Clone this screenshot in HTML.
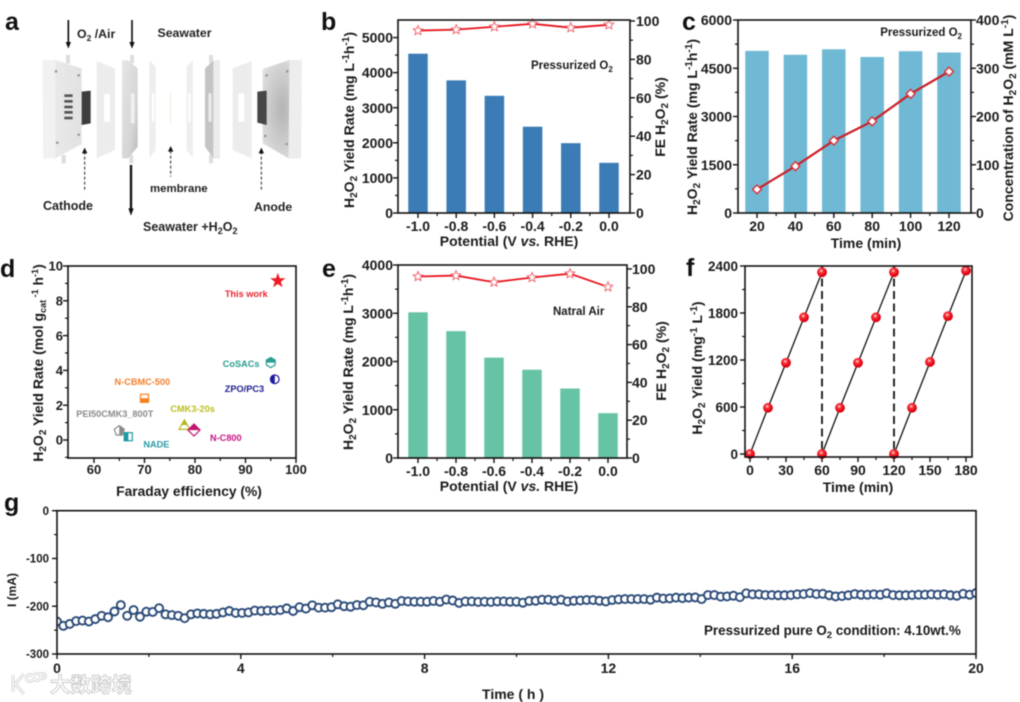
<!DOCTYPE html>
<html lang="en">
<head>
<meta charset="utf-8">
<title>H2O2 electrosynthesis figure</title>
<style>
html,body{margin:0;padding:0;background:#fff;}
#figure{display:block;width:1020px;height:702px;filter:blur(0.4px);font-family:"Liberation Sans","Noto Sans CJK SC",sans-serif;font-weight:bold;fill:#1a1a1a;}
text{font-family:"Liberation Sans","Noto Sans CJK SC",sans-serif;font-weight:bold;}
</style>
</head>
<body>
<svg id="figure" xmlns="http://www.w3.org/2000/svg" width="1020" height="702" viewBox="0 0 1020 702">
  <defs>
    <radialGradient id="ball-gradient" cx="0.42" cy="0.36" r="0.64">
      <stop offset="0" stop-color="#ffe6e6"/>
      <stop offset="0.32" stop-color="#f6333b"/>
      <stop offset="0.8" stop-color="#e6000f"/>
      <stop offset="1" stop-color="#c8000f"/>
    </radialGradient>
    <linearGradient id="plate-light" x1="0" x2="1" y1="0" y2="0">
      <stop offset="0" stop-color="#ececec"/><stop offset="1" stop-color="#e2e2e2"/>
    </linearGradient>
    <linearGradient id="plate-mid" x1="0" x2="1" y1="0" y2="1">
      <stop offset="0" stop-color="#e6e6e6"/><stop offset="0.7" stop-color="#d4d4d4"/><stop offset="1" stop-color="#b8b8b8"/>
    </linearGradient>
    <radialGradient id="plate-anode" cx="0.5" cy="0.5" r="0.6">
      <stop offset="0" stop-color="#b4b4b4"/><stop offset="1" stop-color="#dedede"/>
    </radialGradient>
  </defs>

  <!-- Panel letters -->
  <g font-size="25" fill="#111">
    <text x="5" y="30">a</text>
    <text x="321" y="30">b</text>
    <text x="682" y="30">c</text>
    <text x="0" y="277">d</text>
    <text x="322" y="277">e</text>
    <text x="686" y="276">f</text>
    <text x="4" y="511">g</text>
  </g>

  <!-- Panel a: exploded cell schematic -->
  <g transform="scale(0.33333)">
    <g>
      <rect x="198" y="165" width="12" height="25" fill="#dcdcdc"/>
      <rect x="185" y="465" width="12" height="25" fill="#dcdcdc"/>
      <polygon points="128,180 166,180 245,205 245,432 165,475 130,475" fill="url(#plate-light)"/>
      <polygon points="128,180 166,180 166,475 130,475" fill="#f1f1f1"/>
      <polygon points="245,275 272,272 272,370 245,375" fill="#3c3c3c"/>
      <g fill="#555">
        <rect x="193" y="283" width="25" height="8"/><rect x="193" y="300" width="25" height="8"/><rect x="193" y="317" width="25" height="8"/><rect x="193" y="333" width="25" height="8"/><rect x="193" y="350" width="25" height="8"/>
      </g>
      <g fill="#999">
        <circle cx="168" cy="214" r="4"/><circle cx="236" cy="226" r="4"/><circle cx="172" cy="428" r="4"/><circle cx="236" cy="404" r="4"/>
      </g>
    </g>
    <g>
      <polygon points="290,183 345,205 345,450 290,475" fill="#ececec"/>
      <rect x="312" y="282" width="18" height="83" fill="#fff"/>
    </g>
    <g>
      <rect x="390" y="165" width="12" height="25" fill="#dedede"/>
      <rect x="388" y="465" width="12" height="25" fill="#dedede"/>
      <polygon points="366,180 385,182 413,205 413,440 385,475 366,475" fill="url(#plate-mid)"/>
      <rect x="392" y="280" width="12" height="90" fill="#efefef"/>
    </g>
    <g>
      <polygon points="448,180 467,200 467,450 448,475" fill="#eeeeee"/>
      <rect x="456" y="280" width="7" height="85" fill="#fff"/>
    </g>
    <rect x="510" y="275" width="3" height="100" fill="#eeeed8"/>
    <g>
      <polygon points="579,180 560,200 560,450 579,475" fill="#eeeeee"/>
      <rect x="565" y="280" width="7" height="85" fill="#fff"/>
    </g>
    <g>
      <rect x="627" y="165" width="12" height="25" fill="#dedede"/>
      <rect x="627" y="465" width="12" height="25" fill="#dedede"/>
      <polygon points="659,180 640,182 615,205 615,440 640,475 659,475" fill="#c4c4c4"/>
      <polygon points="640,182 659,180 659,475 640,475" fill="#ececec"/>
      <rect x="625" y="280" width="10" height="85" fill="#e8e8e8"/>
    </g>
    <g>
      <polygon points="755,183 698,205 698,450 755,475" fill="#ececec"/>
      <rect x="715" y="280" width="18" height="85" fill="#fff"/>
    </g>
    <g>
      <polygon points="788,207 868,180 905,180 903,475 866,475 788,430" fill="url(#plate-anode)"/>
      <polygon points="868,180 905,180 903,475 866,475" fill="#ededed"/>
      <polygon points="772,275 800,272 800,375 772,368" fill="#464646"/>
      <g fill="#999">
        <circle cx="800" cy="226" r="4"/><circle cx="862" cy="214" r="4"/><circle cx="796" cy="408" r="4"/><circle cx="860" cy="432" r="4"/>
      </g>
    </g>
    <g stroke="#111" fill="#111">
      <line x1="205" y1="60" x2="205" y2="130" stroke-width="5"/><polygon points="197,126 213,126 205,146" stroke="none"/>
      <line x1="396" y1="60" x2="396" y2="130" stroke-width="5"/><polygon points="388,126 404,126 396,146" stroke="none"/>
      <line x1="393" y1="495" x2="393" y2="630" stroke-width="7"/><polygon points="385,625 401,625 393,647" stroke="none"/>
    </g>
    <g stroke="#222" fill="#111" stroke-width="3">
      <line x1="254" y1="455" x2="254" y2="572" stroke-dasharray="9 6"/><polygon points="246,460 262,460 254,443" stroke="none"/>
      <line x1="512" y1="452" x2="512" y2="530" stroke-dasharray="9 6"/><polygon points="504,455 520,455 512,438" stroke="none"/>
      <line x1="784" y1="455" x2="784" y2="570" stroke-dasharray="9 6"/><polygon points="776,460 792,460 784,443" stroke="none"/>
    </g>
  </g>
  <g font-size="12.300" fill="#222">
    <text x="77" y="38">O<tspan font-size="8.5" dy="3">2</tspan><tspan dy="-3"> /Air</tspan></text>
    <text x="157.500" y="37">Seawater</text>
    <text x="150" y="192" font-size="11.400">membrane</text>
    <text x="43" y="210" font-size="12.500">Cathode</text>
    <text x="254" y="211">Anode</text>
    <text x="143" y="231" font-size="12.500">Seawater +H<tspan font-size="9" dy="3">2</tspan><tspan dy="-3">O</tspan><tspan font-size="9" dy="3">2</tspan></text>
  </g>

  <!-- Chart groups filled by script -->
  <g id="chart-b"></g>
  <g id="chart-c"></g>
  <g id="chart-d"></g>
  <g id="chart-e"></g>
  <g id="chart-f"></g>
  <g id="chart-g"></g>

  <!-- Axis titles and annotations -->
  <g font-size="14" fill="#1a1a1a">
    <text x="509" y="246" text-anchor="middle">Potential (V <tspan font-style="italic">vs.</tspan> RHE)</text>
    <text transform="translate(354,120) rotate(-90)" text-anchor="middle">H<tspan font-size="10" dy="3">2</tspan><tspan dy="-3">O</tspan><tspan font-size="10" dy="3">2</tspan><tspan dy="-3"> Yield Rate (mg L</tspan><tspan font-size="10" dy="-5">-1</tspan><tspan dy="5">h</tspan><tspan font-size="10" dy="-5">-1</tspan><tspan dy="5">)</tspan></text>
    <text transform="translate(665,117) rotate(-90)" text-anchor="middle">FE H<tspan font-size="10" dy="3">2</tspan><tspan dy="-3">O</tspan><tspan font-size="10" dy="3">2</tspan><tspan dy="-3"> (%)</tspan></text>
    <text x="531" y="69" font-size="11.500">Pressurized O<tspan font-size="8" dy="3">2</tspan></text>

    <text x="866" y="248" text-anchor="middle">Time (min)</text>
    <text transform="translate(697,127) rotate(-90)" text-anchor="middle">H<tspan font-size="10" dy="3">2</tspan><tspan dy="-3">O</tspan><tspan font-size="10" dy="3">2</tspan><tspan dy="-3"> Yield Rate (mg L</tspan><tspan font-size="10" dy="-5">-1</tspan><tspan dy="5">h</tspan><tspan font-size="10" dy="-5">-1</tspan><tspan dy="5">)</tspan></text>
    <text transform="translate(1013,118) rotate(-90)" text-anchor="middle">Concentration of H<tspan font-size="10" dy="3">2</tspan><tspan dy="-3">O</tspan><tspan font-size="10" dy="3">2</tspan><tspan dy="-3"> (mM L</tspan><tspan font-size="10" dy="-5">-1</tspan><tspan dy="5">)</tspan></text>
    <text x="962" y="36" font-size="11.500" text-anchor="end">Pressurized O<tspan font-size="8" dy="3">2</tspan></text>

    <text x="189" y="496" text-anchor="middle" font-size="13.800">Faraday efficiency (%)</text>
    <text transform="translate(43,363) rotate(-90)" text-anchor="middle">H<tspan font-size="10" dy="3">2</tspan><tspan dy="-3">O</tspan><tspan font-size="10" dy="3">2</tspan><tspan dy="-3"> Yield Rate  (mol g</tspan><tspan font-size="9" dy="3">cat</tspan><tspan font-size="9" dy="-8"> -1</tspan><tspan dy="5"> h</tspan><tspan font-size="9" dy="-5">-1</tspan><tspan dy="5">)</tspan></text>

    <text x="509" y="491" text-anchor="middle">Potential (V <tspan font-style="italic">vs.</tspan> RHE)</text>
    <text transform="translate(353,362) rotate(-90)" text-anchor="middle">H<tspan font-size="10" dy="3">2</tspan><tspan dy="-3">O</tspan><tspan font-size="10" dy="3">2</tspan><tspan dy="-3"> Yield Rate (mg L</tspan><tspan font-size="10" dy="-5">-1</tspan><tspan dy="5">h</tspan><tspan font-size="10" dy="-5">-1</tspan><tspan dy="5">)</tspan></text>
    <text transform="translate(666,361) rotate(-90)" text-anchor="middle">FE H<tspan font-size="10" dy="3">2</tspan><tspan dy="-3">O</tspan><tspan font-size="10" dy="3">2</tspan><tspan dy="-3"> (%)</tspan></text>
    <text x="553" y="315" font-size="11.500">Natral Air</text>

    <text x="858" y="492" text-anchor="middle">Time (min)</text>
    <text transform="translate(702,368) rotate(-90)" text-anchor="middle">H<tspan font-size="10" dy="3">2</tspan><tspan dy="-3">O</tspan><tspan font-size="10" dy="3">2</tspan><tspan dy="-3"> Yield (mg</tspan><tspan font-size="10" dy="-5">-1</tspan><tspan dy="5"> L</tspan><tspan font-size="10" dy="-5">-1</tspan><tspan dy="5">)</tspan></text>

    <text x="513" y="699" text-anchor="middle">Time ( h )</text>
    <text transform="translate(16,590) rotate(-90)" text-anchor="middle" font-size="12">I (mA)</text>
    <text x="704" y="635" font-size="13.400">Pressurized pure O<tspan font-size="9.5" dy="3">2</tspan><tspan dy="-3"> condition: 4.10wt.%</tspan></text>
  </g>

  <!-- Watermark -->
  <g>
    <g fill="none" stroke="#cfcfcf" stroke-width="3">
      <path d="M13 675 L13 692 M24 674 L15 684 L24 694"/>
      <circle cx="30" cy="678" r="3.500"/><circle cx="37" cy="677" r="3.500"/><circle cx="43" cy="676" r="2.500"/>
    </g>
    <g fill="none" stroke="#ffffff" stroke-width="1.3">
      <path d="M13 675 L13 692 M24 674 L15 684 L24 694"/>
      <circle cx="30" cy="678" r="3.500"/><circle cx="37" cy="677" r="3.500"/><circle cx="43" cy="676" r="2.500"/>
    </g>
    <text x="50" y="692" font-size="20.500" font-weight="normal" fill="#ffffff" stroke="#c4c4c4" stroke-width="0.8" style="font-family:'Noto Sans CJK SC','Liberation Sans',sans-serif;">大数跨境</text>
  </g>

<script>
// ---------- Chart data ----------
const potentialCategories = ['-1.0', '-0.8', '-0.6', '-0.4', '-0.2', '0.0'];

const pressurizedYieldRate = [4540, 3780, 3340, 2460, 1990, 1430];
const pressurizedFaradaicEfficiency = [95, 95.5, 97, 98.5, 96.5, 98];
const panelBLeftTicks = [0, 1000, 2000, 3000, 4000, 5000];
const panelBRightTicks = [0, 20, 40, 60, 80, 100];

const timeCategories = [20, 40, 60, 80, 100, 120];
const timeYieldRate = [5040, 4920, 5090, 4850, 5030, 4990];
const timeConcentration = [49, 97, 150, 190, 247, 293];
const panelCLeftTicks = [0, 1500, 3000, 4500, 6000];
const panelCRightTicks = [0, 100, 200, 300, 400];

const catalystNames = ['This work', 'CoSACs', 'ZPO/PC3', 'N-CBMC-500', 'CMK3-20s', 'N-C800', 'PEI50CMK3_800T', 'NADE'];
const catalystEfficiency = [96.4, 95, 95.8, 70, 77.9, 79.8, 65, 66.8];
const catalystYieldRate = [9.15, 4.45, 3.49, 2.4, 0.86, 0.57, 0.53, 0.19];
const panelDXTicks = [60, 70, 80, 90, 100];
const panelDYTicks = [0, 2, 4, 6, 8, 10];

const airYieldRate = [3020, 2630, 2080, 1830, 1440, 930];
const airFaradaicEfficiency = [96, 96.5, 93, 95.5, 97.5, 90.5];
const panelELeftTicks = [0, 1000, 2000, 3000, 4000];
const panelERightTicks = [0, 20, 40, 60, 80, 100];

const cycleOneTimes = [0, 15, 30, 45, 60];
const cycleOneYield = [0, 590, 1165, 1745, 2320];
const cycleTwoTimes = [60, 75, 90, 105, 120];
const cycleTwoYield = [0, 590, 1165, 1745, 2320];
const cycleThreeTimes = [120, 135, 150, 165, 180];
const cycleThreeYield = [0, 590, 1175, 1760, 2340];
const cycleBoundaries = [60, 120];
const panelFXTicks = [0, 30, 60, 90, 120, 150, 180];
const panelFYTicks = [0, 600, 1200, 1800, 2400];

const currentTrace = [
  -232, -241, -237, -231, -230, -232, -227, -220, -223, -211, -197.5, -220, -208, -222, -211.5, -212,
  -204, -217, -218.5, -220, -225, -217, -215, -216, -217, -216, -213, -210, -214, -214, -213, -209,
  -210, -209, -209, -208, -204.5, -210, -202, -205, -198, -203, -203, -202, -196, -200, -201, -197.5,
  -198, -190.5, -192, -195, -192, -195, -189, -190, -190.5, -190.5, -190.5, -189, -190.5, -186, -188,
  -193, -190, -190, -191, -190.5, -191, -190, -190,
  -190.5, -190.5, -192.6, -189, -188.5, -186.4, -186.4, -188.5, -186.4, -190, -188.5, -187.8, -187,
  -187, -188.5, -190, -187, -185.7, -185, -185, -185, -185, -186.4, -182, -184, -183.6, -182, -183,
  -182, -181.5, -185, -176.6, -176.6, -180, -179.4, -178, -181, -173, -175, -175, -176.6, -176.6, -177,
  -177, -176.6, -175, -174.5, -172.4, -174.5, -174, -177, -179.4, -178.7, -177, -174.5, -175.9, -175.9,
  -175, -175.9, -173, -176.6, -177, -177, -176.6, -175.9, -175.9, -175, -175.9, -175, -177, -178, -174,
  -175.9, -172.4
];
const currentTraceDurationHours = 20;
const panelGXTicks = [0, 4, 8, 12, 16, 20];
const panelGYTicks = [0, -100, -200, -300];

// ---------- Helpers ----------
const SVG_NS = 'http://www.w3.org/2000/svg';
const FRAME_WIDTH = 1.6;

function make(tag, attrs, parent) {
  const node = document.createElementNS(SVG_NS, tag);
  for (const key in attrs) node.setAttribute(key, attrs[key]);
  if (parent) parent.appendChild(node);
  return node;
}

function linearScale(d0, d1, r0, r1) {
  return function (v) { return r0 + (v - d0) * (r1 - r0) / (d1 - d0); };
}

function midpoints(values) {
  const out = [];
  for (let i = 0; i < values.length - 1; i++) out.push((values[i] + values[i + 1]) / 2);
  return out;
}

function drawFrame(parent, box) {
  const frame = make('rect', { x: box.left, y: box.top, width: box.right - box.left, height: box.bottom - box.top, fill: 'none', stroke: '#111', 'stroke-width': FRAME_WIDTH }, parent);
  
  
}

function drawYTicks(parent, scale, ticks, labels, axisX, side, labelX, fontSize, minorTicks, axisName) {
  const dir = side === 'left' ? -1 : 1;
  ticks.forEach(function (value, i) {
    const y = scale(value);
    const tick = make('line', { x1: axisX, x2: axisX + dir * 5, y1: y, y2: y, stroke: '#111', 'stroke-width': 1.4 }, parent);
    
    
    const label = make('text', { x: labelX, y: y + fontSize * 0.36, 'font-size': fontSize, 'text-anchor': side === 'left' ? 'end' : 'start', fill: '#1a1a1a' }, parent);
    label.textContent = labels[i];
    
    
  });
  minorTicks.forEach(function (value) {
    const y = scale(value);
    const tick = make('line', { x1: axisX, x2: axisX + dir * 3, y1: y, y2: y, stroke: '#111', 'stroke-width': 1.2 }, parent);
    
    
  });
}

function drawXTicks(parent, scale, ticks, labels, axisY, labelY, fontSize, minorTicks, axisName) {
  ticks.forEach(function (value, i) {
    const x = scale(value);
    const tick = make('line', { x1: x, x2: x, y1: axisY, y2: axisY + 5, stroke: '#111', 'stroke-width': 1.4 }, parent);
    
    
    const label = make('text', { x: x, y: labelY, 'font-size': fontSize, 'text-anchor': 'middle', fill: '#1a1a1a' }, parent);
    label.textContent = labels[i];
    
    
  });
  minorTicks.forEach(function (value) {
    const x = scale(value);
    const tick = make('line', { x1: x, x2: x, y1: axisY, y2: axisY + 3, stroke: '#111', 'stroke-width': 1.2 }, parent);
    
    
  });
}

function starPoints(cx, cy, outer, inner) {
  const pts = [];
  for (let i = 0; i < 10; i++) {
    const r = i % 2 === 0 ? outer : inner;
    const a = -Math.PI / 2 + i * Math.PI / 5;
    pts.push((cx + r * Math.cos(a)).toFixed(2) + ',' + (cy + r * Math.sin(a)).toFixed(2));
  }
  return pts.join(' ');
}

function polygonPoints(cx, cy, r, sides, startAngle) {
  const pts = [];
  for (let i = 0; i < sides; i++) {
    const a = startAngle + i * 2 * Math.PI / sides;
    pts.push((cx + r * Math.cos(a)).toFixed(2) + ',' + (cy + r * Math.sin(a)).toFixed(2));
  }
  return pts.join(' ');
}

function drawBars(parent, xPositions, values, yScale, baseY, width, color, barName) {
  values.forEach(function (value, i) {
    const top = yScale(value);
    const bar = make('rect', { x: xPositions[i] - width / 2, y: top, width: width, height: baseY - top, fill: color }, parent);
    
    
  });
}

function drawStarLine(parent, xPositions, values, yScale, lineName, markerName) {
  const line = make('polyline', {
    points: values.map(function (v, i) { return xPositions[i] + ',' + yScale(v); }).join(' '),
    fill: 'none', stroke: '#e8131c', 'stroke-width': 1.8
  }, parent);
  
  
  values.forEach(function (v, i) {
    const star = make('polygon', { points: starPoints(xPositions[i], yScale(v), 5, 2.3), fill: '#fff', stroke: '#ee5a62', 'stroke-width': 0.9 }, parent);
    
    
  });
}

function drawBarPanel(id, box, categories, barValues, barMax, barTicks, barTickLabelX, lineValues, rightTopValue, rightTicks, rightLabelX, barColor, tickLabelY, catX0, catX1) {
  const parent = document.getElementById(id);
  const left = linearScale(0, barMax, box.bottom, box.top);
  const right = linearScale(0, rightTopValue, box.bottom, box.top);
  const x = linearScale(0, categories.length - 1, catX0, catX1);
  const idx = categories.map(function (_, i) { return i; });
  const xs = idx.map(x);
  drawBars(parent, xs, barValues, left, box.bottom, 19.5, barColor, 'yield-rate-bar');
  drawStarLine(parent, xs, lineValues, right, 'faradaic-efficiency-line', 'faradaic-efficiency-marker');
  drawFrame(parent, box);
  drawYTicks(parent, left, barTicks, barTicks, box.left, 'left', barTickLabelX, 14, midpoints(barTicks), 'left-axis');
  drawYTicks(parent, right, rightTicks, rightTicks, box.right, 'right', rightLabelX, 14, midpoints(rightTicks), 'right-axis');
  drawXTicks(parent, x, idx, categories, box.bottom, tickLabelY, 14, midpoints(idx), 'x-axis');
}

// ---------- Panel b ----------
drawBarPanel('chart-b', { left: 398, right: 630, top: 20, bottom: 213 },
  potentialCategories, pressurizedYieldRate, 5500, panelBLeftTicks, 393,
  pressurizedFaradaicEfficiency, 100.5, panelBRightTicks, 636, '#3c7cb6', 231, 418, 609);

// ---------- Panel c ----------
(function () {
  const parent = document.getElementById('chart-c');
  const box = { left: 738, right: 971, top: 20, bottom: 213 };
  const left = linearScale(0, 6000, box.bottom, box.top);
  const right = linearScale(0, 400, box.bottom, box.top);
  const x = linearScale(20, 120, 757, 949);
  const xs = timeCategories.map(x);
  drawBars(parent, xs, timeYieldRate, left, box.bottom, 23.5, '#70b9d4', 'yield-rate-bar');
  const line = make('polyline', {
    points: timeConcentration.map(function (v, i) { return xs[i] + ',' + right(v); }).join(' '),
    fill: 'none', stroke: '#cc1f28', 'stroke-width': 2.2
  }, parent);
  
  
  timeConcentration.forEach(function (v, i) {
    const marker = make('polygon', { points: polygonPoints(xs[i], right(v), 4.4, 4, 0), fill: '#fff', stroke: '#d8323a', 'stroke-width': 1.4 }, parent);
    
    
  });
  drawFrame(parent, box);
  drawYTicks(parent, left, panelCLeftTicks, panelCLeftTicks, box.left, 'left', 732, 14, midpoints(panelCLeftTicks), 'left-axis');
  drawYTicks(parent, right, panelCRightTicks, panelCRightTicks, box.right, 'right', 976, 14, midpoints(panelCRightTicks), 'right-axis');
  drawXTicks(parent, x, timeCategories, timeCategories, box.bottom, 231, 14, midpoints(timeCategories), 'x-axis');
})();

// ---------- Panel d ----------
(function () {
  const parent = document.getElementById('chart-d');
  const box = { left: 68, right: 296, top: 266, bottom: 458 };
  const x = linearScale(60, 100, 94, 296);
  const y = linearScale(0, 10, 440, 266);
  const styles = [
    { shape: 'star', color: '#ee1c25', half: 'all' },
    { shape: 'hexagon', color: '#2a9d8f', half: 'top' },
    { shape: 'circle', color: '#1c1c9c', half: 'left' },
    { shape: 'square', color: '#f58220', half: 'bottom' },
    { shape: 'triangle', color: '#b5b51e', half: 'top' },
    { shape: 'diamond', color: '#c4156e', half: 'top' },
    { shape: 'pentagon', color: '#8a8a8a', half: 'right' },
    { shape: 'square', color: '#1f9ba3', half: 'left' }
  ];
  const labelSpots = [
    { dx: -53, dy: 16 }, { dx: -48, dy: 4.5 }, { dx: -50, dy: 12.5 }, { dx: -30, dy: -13 },
    { dx: -14, dy: -13 }, { dx: 16, dy: 11 }, { dx: -43, dy: -14 }, { dx: 15, dy: 11 }
  ];
  const labelColors = ['#e8262d', '#2a9d8f', '#1b1b8f', '#f08030', '#bdbd20', '#c71585', '#8a8a8a', '#2a9aa5'];
  const defs = make('defs', {}, parent);

  function shapeNode(style, cx, cy, paint, stroke, host) {
    const base = { fill: paint, stroke: stroke, 'stroke-width': 1.2 };
    if (style.shape === 'circle') return make('circle', Object.assign({ cx: cx, cy: cy, r: 4.3 }, base), host);
    if (style.shape === 'square') return make('rect', Object.assign({ x: cx - 4, y: cy - 4, width: 8, height: 8 }, base), host);
    if (style.shape === 'star') return make('polygon', Object.assign({ points: starPoints(cx, cy, 6.2, 2.5) }, base), host);
    if (style.shape === 'hexagon') return make('polygon', Object.assign({ points: polygonPoints(cx, cy, 5, 6, -Math.PI / 2) }, base), host);
    if (style.shape === 'pentagon') return make('polygon', Object.assign({ points: polygonPoints(cx, cy, 5.2, 5, -Math.PI / 2) }, base), host);
    if (style.shape === 'triangle') return make('polygon', Object.assign({ points: polygonPoints(cx, cy + 1.2, 6.2, 3, -Math.PI / 2) }, base), host);
    return make('polygon', Object.assign({ points: polygonPoints(cx, cy, 6, 4, 0) }, base), host);
  }

  catalystNames.forEach(function (name, i) {
    const style = styles[i];
    const cx = x(catalystEfficiency[i]);
    const cy = y(catalystYieldRate[i]);
    const group = make('g', {}, parent);
    
    
    shapeNode(style, cx, cy, style.half === 'all' ? style.color : '#fff', style.color, group);
    if (style.half !== 'all') {
      const clipId = 'half-clip-' + i;
      const clip = make('clipPath', { id: clipId }, defs);
      const rect = { x: cx - 8, y: cy - 8, width: 16, height: 16 };
      if (style.half === 'top') rect.height = 8;
      if (style.half === 'bottom') { rect.y = cy; rect.height = 8; }
      if (style.half === 'left') rect.width = 8;
      if (style.half === 'right') { rect.x = cx; rect.width = 8; }
      make('rect', rect, clip);
      const fillShape = shapeNode(style, cx, cy, style.color, style.color, group);
      fillShape.setAttribute('clip-path', 'url(#' + clipId + ')');
    }
    const label = make('text', { x: cx + labelSpots[i].dx, y: cy + labelSpots[i].dy, 'font-size': 9.2, fill: labelColors[i] }, parent);
    label.textContent = name;
    
    
  });
  drawFrame(parent, box);
  drawYTicks(parent, y, panelDYTicks, panelDYTicks, box.left, 'left', 63, 13, midpoints(panelDYTicks).concat([-1]), 'y-axis');
  drawXTicks(parent, x, panelDXTicks, panelDXTicks, box.bottom, 474, 13, midpoints(panelDXTicks), 'x-axis');
})();

// ---------- Panel e ----------
drawBarPanel('chart-e', { left: 398, right: 627, top: 265, bottom: 458 },
  potentialCategories, airYieldRate, 4000, panelELeftTicks, 393,
  airFaradaicEfficiency, 102.1, panelERightTicks, 632, '#67c3a6', 476, 418, 608);

// ---------- Panel f ----------
(function () {
  const parent = document.getElementById('chart-f');
  const box = { left: 745, right: 972, top: 266, bottom: 457 };
  const x = linearScale(0, 180, 750, 966);
  const y = linearScale(0, 2400, 454, 266);
  cycleBoundaries.forEach(function (t) {
    const dash = make('line', { x1: x(t), x2: x(t), y1: box.top, y2: y(0), stroke: '#111', 'stroke-width': 1.8, 'stroke-dasharray': '8 4.5' }, parent);
    
    
  });
  [[cycleOneTimes, cycleOneYield], [cycleTwoTimes, cycleTwoYield], [cycleThreeTimes, cycleThreeYield]].forEach(function (cycle) {
    const times = cycle[0];
    const yields = cycle[1];
    const line = make('polyline', {
      points: times.map(function (t, i) { return x(t) + ',' + y(yields[i]); }).join(' '),
      fill: 'none', stroke: '#111', 'stroke-width': 1.3
    }, parent);
    
    
    times.forEach(function (t, i) {
      const ball = make('circle', { cx: x(t), cy: y(yields[i]), r: 4.9, fill: 'url(#ball-gradient)' }, parent);
      
      
    });
  });
  drawFrame(parent, box);
  drawYTicks(parent, y, panelFYTicks, panelFYTicks, box.left, 'left', 738, 13.5, midpoints(panelFYTicks), 'y-axis');
  drawXTicks(parent, x, panelFXTicks, panelFXTicks, box.bottom, 475, 14, midpoints(panelFXTicks), 'x-axis');
})();

// ---------- Panel g ----------
(function () {
  const parent = document.getElementById('chart-g');
  const box = { left: 57, right: 976, top: 510.7, bottom: 654 };
  const x = linearScale(0, 20, box.left, box.right);
  const y = linearScale(0, -300, box.top, box.bottom);
  const defs = make('defs', {}, parent);
  const clip = make('clipPath', { id: 'trace-clip' }, defs);
  make('rect', { x: box.left, y: box.top, width: box.right - box.left, height: box.bottom - box.top }, clip);
  const trace = make('g', { 'clip-path': 'url(#trace-clip)' }, parent);
  
  
  const hoursPerSample = currentTraceDurationHours / (currentTrace.length - 1);
  currentTrace.forEach(function (value, i) {
    const marker = make('circle', { cx: x(i * hoursPerSample), cy: y(value), r: 4, fill: '#fff', stroke: '#2a4a78', 'stroke-width': 1.9 }, trace);
    
    
  });
  drawFrame(parent, box);
  drawYTicks(parent, y, panelGYTicks, panelGYTicks, box.left, 'left', 49, 11.5, midpoints(panelGYTicks), 'y-axis');
  drawXTicks(parent, x, panelGXTicks, panelGXTicks, box.bottom, 673, 14, midpoints(panelGXTicks), 'x-axis');
})();
</script>
</svg>
</body>
</html>
